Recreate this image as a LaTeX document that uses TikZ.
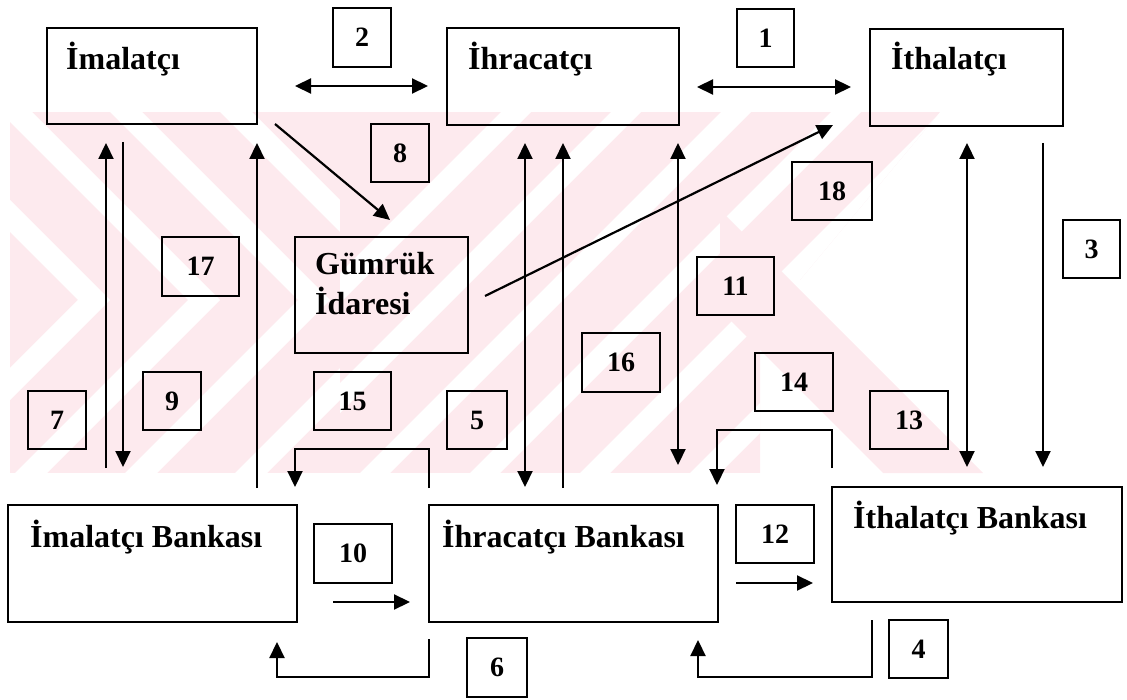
\documentclass[tikz,border=0pt]{standalone}
\usepackage{fontspec}
\setmainfont{Liberation Serif}
\usetikzlibrary{arrows.meta}
\definecolor{wm}{RGB}{253,234,238}
\tikzset{
  bigbox/.style={draw, line width=2pt, rectangle, inner sep=0pt},
  numbox/.style={draw, line width=2pt, rectangle, inner sep=0pt, font=\fontsize{28}{28}\selectfont\bfseries},
  bigtext/.style={anchor=base west, inner sep=0pt, font=\fontsize{32}{35}\selectfont\bfseries, align=left},
  conn/.style={line width=2.2pt, -{Triangle[length=16pt,width=15pt]}},
  dconn/.style={line width=2.2pt, {Triangle[length=16pt,width=15pt]}-{Triangle[length=16pt,width=15pt]}}
}
\begin{document}
\begin{tikzpicture}[x=1pt,y=-1pt]
\useasboundingbox (0,0) rectangle (1127,700);
% watermark (approximate)
\begin{scope}
\clip (0,112) rectangle (340,473);
\fill[wm] (10,112) rectangle (340,473);
\foreach \s in {-220,-110,0,110,220}{
  \fill[white] (\s,112) -- (\s+32,112) -- (\s+220,300) -- (\s+47,473) -- (\s+15,473) -- (\s+188,300) -- cycle;
}
\end{scope}
\begin{scope}
\clip (340,112) -- (940,112) -- (800,280) -- (760,280) -- (760,473) -- (340,473) -- cycle;
\fill[wm] (340,112) rectangle (940,473);
\foreach \s in {140,250,360,470,580,690}{
  \fill[white] (\s,473) -- (\s+30,473) -- (\s+391,112) -- (\s+361,112) -- cycle;
}
\end{scope}
\begin{scope}
\clip (720,112) rectangle (1127,473);
\fill[wm] (610,200) -- (710,200) -- (983,473) -- (883,473) -- cycle;
\end{scope}

% main boxes
\node[bigbox, minimum width=210pt, minimum height=96pt] (imal) at (152,76) {};
\node[bigbox, minimum width=232pt, minimum height=97pt] (ihr) at (563,76.5) {};
\node[bigbox, minimum width=193pt, minimum height=97pt] (ith) at (966.5,77.5) {};
\node[bigbox, minimum width=173pt, minimum height=116pt] (gum) at (381.5,295) {};
\node[bigbox, minimum width=289pt, minimum height=117pt] (imalb) at (152.5,563.5) {};
\node[bigbox, minimum width=289pt, minimum height=117pt] (ihrb) at (573.5,563.5) {};
\node[bigbox, minimum width=290pt, minimum height=115pt] (ithb) at (977,544.5) {};

\node[bigtext] (imal-t) at (66,70) {İmalatçı};
\node[bigtext] (ihr-t) at (468,70) {İhracatçı};
\node[bigtext] (ith-t) at (891,70) {İthalatçı};
\node[bigtext] (gum-t1) at (315,275) {Gümrük};
\node[bigtext] (gum-t2) at (315,315) {İdaresi};
\node[bigtext] (imalb-t) at (30,547) {İmalatçı Bankası};
\node[bigtext] (ihrb-t) at (442,547) {İhracatçı Bankası};
\node[bigtext] (ithb-t) at (853,528) {İthalatçı Bankası};

% number boxes
\node[numbox, minimum width=58pt, minimum height=59pt] (n2) at (362,37.5) {2};
\node[numbox, minimum width=58pt, minimum height=58pt] (n8) at (400,153) {8};
\node[numbox, minimum width=57pt, minimum height=58pt] (n1) at (765.5,38) {1};
\node[numbox, minimum width=80pt, minimum height=58pt] (n18) at (832,191) {18};
\node[numbox, minimum width=57pt, minimum height=58pt] (n3) at (1091.5,249) {3};
\node[numbox, minimum width=77pt, minimum height=59pt] (n17) at (200.5,266.5) {17};
\node[numbox, minimum width=58pt, minimum height=58pt] (n9) at (172,401) {9};
\node[numbox, minimum width=58pt, minimum height=58pt] (n7) at (57,420) {7};
\node[numbox, minimum width=77pt, minimum height=58pt] (n15) at (352.5,401) {15};
\node[numbox, minimum width=60pt, minimum height=58pt] (n5) at (477,420) {5};
\node[numbox, minimum width=78pt, minimum height=59pt] (n16) at (621,362.5) {16};
\node[numbox, minimum width=77pt, minimum height=58pt] (n11) at (735.5,286) {11};
\node[numbox, minimum width=78pt, minimum height=58pt] (n14) at (794,382) {14};
\node[numbox, minimum width=78pt, minimum height=58pt] (n13) at (909,420) {13};
\node[numbox, minimum width=78pt, minimum height=59pt] (n10) at (353,553.5) {10};
\node[numbox, minimum width=78pt, minimum height=58pt] (n12) at (775,534) {12};
\node[numbox, minimum width=60pt, minimum height=59pt] (n6) at (497,667.5) {6};
\node[numbox, minimum width=59pt, minimum height=58pt] (n4) at (918.5,649) {4};

% connector end points
\coordinate (a2s) at (295,86);   \coordinate (a2e) at (428,86);
\coordinate (a1s) at (697,87);   \coordinate (a1e) at (851,87);
\coordinate (a8s) at (275,124);  \coordinate (a8e) at (390,220);
\coordinate (a18s) at (485,296); \coordinate (a18e) at (833,125);
\coordinate (a7s) at (106,468);  \coordinate (a7e) at (106,143);
\coordinate (a9s) at (123,142);  \coordinate (a9e) at (123,467);
\coordinate (a17s) at (257,488); \coordinate (a17e) at (257,143);
\coordinate (a15s) at (429,488); \coordinate (a15e) at (295,487);
\coordinate (a10s) at (333,602); \coordinate (a10e) at (410,602);
\coordinate (a6s) at (429,639);  \coordinate (a6e) at (277,642);
\coordinate (a5s) at (525,143);  \coordinate (a5e) at (525,487);
\coordinate (a16s) at (563,488); \coordinate (a16e) at (563,143);
\coordinate (a11s) at (678,143); \coordinate (a11e) at (678,465);
\coordinate (a14s) at (832,468); \coordinate (a14e) at (717,485);
\coordinate (a12s) at (736,583); \coordinate (a12e) at (813,583);
\coordinate (a4s) at (872,620);  \coordinate (a4e) at (698,640);
\coordinate (a13s) at (967,143); \coordinate (a13e) at (967,467);
\coordinate (a3s) at (1043,143); \coordinate (a3e) at (1043,467);

\draw[dconn] (a2s) -- (a2e);
\draw[dconn] (a1s) -- (a1e);
\draw[conn] (a8s) -- (a8e);
\draw[conn] (a18s) -- (a18e);
\draw[conn] (a7s) -- (a7e);
\draw[conn] (a9s) -- (a9e);
\draw[conn] (a17s) -- (a17e);
\draw[conn] (a15s) -- (429,449) -- (295,449) -- (a15e);
\draw[conn] (a10s) -- (a10e);
\draw[conn] (a6s) -- (429,677) -- (277,677) -- (a6e);
\draw[dconn] (a5s) -- (a5e);
\draw[conn] (a16s) -- (a16e);
\draw[dconn] (a11s) -- (a11e);
\draw[conn] (a14s) -- (832,430) -- (717,430) -- (a14e);
\draw[conn] (a12s) -- (a12e);
\draw[conn] (a4s) -- (872,677) -- (698,677) -- (a4e);
\draw[dconn] (a13s) -- (a13e);
\draw[conn] (a3s) -- (a3e);
\end{tikzpicture}
\end{document}
